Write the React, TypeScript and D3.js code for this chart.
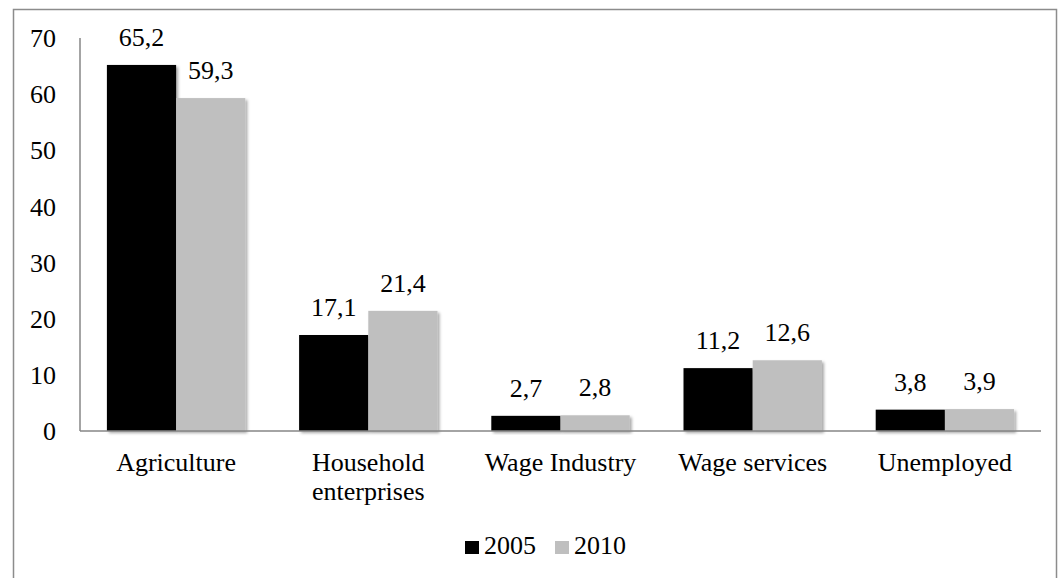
import React from "react";
import * as d3 from "d3";

const categories = ["Agriculture", "Household enterprises", "Wage Industry", "Wage services", "Unemployed"];
const categoryLines = [["Agriculture"], ["Household", "enterprises"], ["Wage Industry"], ["Wage services"], ["Unemployed"]];
const seriesNames = ["2005", "2010"];
const values2005 = [65.2, 17.1, 2.7, 11.2, 3.8];
const values2010 = [59.3, 21.4, 2.8, 12.6, 3.9];
const yTicks = [0, 10, 20, 30, 40, 50, 60, 70];
const colors = ["#000000", "#bfbfbf"];

const W = 1058;
const H = 578;
const FONT = "Liberation Serif, Times New Roman, Times, DejaVu Serif, serif";
const txt: React.CSSProperties = { fontFamily: FONT, fontSize: 26 };

export default function App() {
  const left = 80, right = 1041, top = 38, bottom = 431;
  const x = d3.scaleBand<string>().domain(categories).range([left, right]).paddingInner(0.28).paddingOuter(0.14);
  const xs = d3.scaleBand<string>().domain(seriesNames).range([0, x.bandwidth()]);
  const y = d3.scaleLinear().domain([0, 70]).range([bottom, top]);
  const series = [values2005, values2010];
  const fmt = (v: number) => v.toFixed(1).replace(".", ",");

  return (
    <svg width={W} height={H} style={{ position: "absolute", left: 0, top: 0, background: "#fff", fontFamily: FONT }}>
      <defs>
        <filter id="sh" x="-10%" y="-10%" width="130%" height="130%">
          <feDropShadow dx="2" dy="2" stdDeviation="1.5" floodColor="#000" floodOpacity="0.35" />
        </filter>
      </defs>
      <rect x={13.5} y={9.5} width={1043} height={600} fill="#fff" stroke="#8c8c8c" strokeWidth={1.5} />
      {/* y axis */}
      <line x1={left} x2={left} y1={top} y2={bottom} stroke="#868686" strokeWidth={1.5} />
      {yTicks.map((t) => (
        <text key={t} x={56} y={y(t)} dy="0.35em" textAnchor="end" style={txt} fill="#000">
          {t}
        </text>
      ))}
      {/* bars */}
      {series.map((vals, si) =>
        vals.map((v, ci) => {
          const bx = (x(categories[ci]) as number) + (xs(seriesNames[si]) as number);
          return (
            <rect key={`${si}-${ci}`} x={bx} y={y(v)} width={xs.bandwidth()} height={bottom - y(v)} fill={colors[si]} filter="url(#sh)" />
          );
        })
      )}
      {/* x axis */}
      <line x1={left} x2={right} y1={bottom} y2={bottom} stroke="#868686" strokeWidth={1.5} />
      {/* value labels */}
      {series.map((vals, si) =>
        vals.map((v, ci) => {
          const cx = (x(categories[ci]) as number) + (xs(seriesNames[si]) as number) + xs.bandwidth() / 2;
          return (
            <text key={`l${si}-${ci}`} x={cx} y={y(v) - 19} textAnchor="middle" style={txt} fill="#000">
              {fmt(v)}
            </text>
          );
        })
      )}
      {/* category labels */}
      {categories.map((c, ci) => (
        <text key={c} x={(x(c) as number) + x.bandwidth() / 2} y={471} textAnchor="middle" style={txt} fill="#000">
          {categoryLines[ci].map((ln, li) => (
            <tspan key={li} x={(x(c) as number) + x.bandwidth() / 2} dy={li === 0 ? 0 : 29}>
              {ln}
            </tspan>
          ))}
        </text>
      ))}
      {/* legend */}
      {seriesNames.map((s, si) => {
        const lx = 465 + si * 90;
        return (
          <g key={s}>
            <rect x={lx} y={541} width={14} height={13} fill={colors[si]} />
            <text x={lx + 19} y={554} style={txt} fill="#000">
              {s}
            </text>
          </g>
        );
      })}
    </svg>
  );
}
